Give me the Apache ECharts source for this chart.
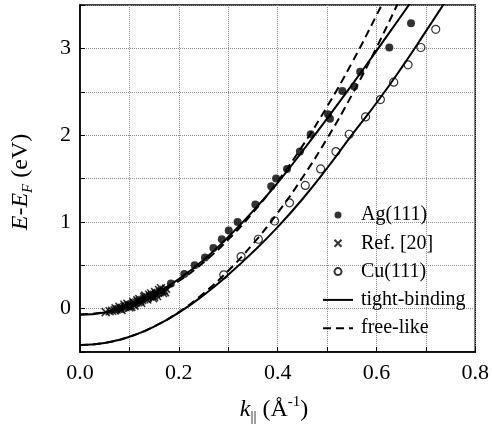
<!DOCTYPE html>
<html>
<head>
<meta charset="utf-8">
<script src="https://cdn.jsdelivr.net/npm/echarts@6/dist/echarts.min.js"></script>
<style>
html,body{margin:0;padding:0;background:#fff;}
#chart{width:492px;height:433px;}
</style>
</head>
<body>
<div id="chart"></div>
<script>
// ---- data (k in 1/Å, E-EF in eV) ----
const xTickLabels = ['0.0', '0.2', '0.4', '0.6', '0.8'];
const yTickLabels = ['0', '1', '2', '3'];

const agDots = [
  [0.184, 0.29], [0.211, 0.40], [0.232, 0.50], [0.253, 0.59], [0.270, 0.70],
  [0.287, 0.80], [0.301, 0.90], [0.319, 1.00], [0.355, 1.20], [0.387, 1.41],
  [0.397, 1.50], [0.419, 1.61], [0.445, 1.81], [0.467, 2.01], [0.502, 2.24],
  [0.506, 2.19], [0.531, 2.51], [0.555, 2.56], [0.567, 2.73], [0.626, 3.01],
  [0.670, 3.29]
];

const refCrosses = [
  [0.052, -0.04], [0.060, -0.03], [0.065, -0.025], [0.070, -0.02], [0.074, -0.01],
  [0.078, -0.005], [0.082, 0.00], [0.086, 0.01], [0.090, 0.02], [0.094, 0.025],
  [0.098, 0.035], [0.102, 0.04], [0.106, 0.05], [0.110, 0.06], [0.114, 0.07],
  [0.118, 0.075], [0.122, 0.09], [0.126, 0.10], [0.130, 0.11], [0.134, 0.12],
  [0.138, 0.13], [0.142, 0.14], [0.146, 0.15], [0.150, 0.16], [0.154, 0.17],
  [0.158, 0.18], [0.162, 0.19], [0.166, 0.205], [0.170, 0.215], [0.174, 0.23],
  [0.090, 0.045], [0.100, 0.015], [0.110, 0.035], [0.120, 0.11], [0.130, 0.135],
  [0.140, 0.16], [0.150, 0.135], [0.160, 0.215], [0.168, 0.18], [0.080, 0.02],
  [0.072, 0.005], [0.084, -0.015], [0.096, 0.055], [0.104, 0.02], [0.116, 0.095],
  [0.124, 0.065], [0.136, 0.105], [0.144, 0.175], [0.152, 0.19], [0.156, 0.145],
  [0.164, 0.235], [0.172, 0.19], [0.108, 0.075], [0.132, 0.15], [0.148, 0.12]
];

const cuCircles = [
  [0.291, 0.39], [0.326, 0.60], [0.361, 0.80], [0.394, 1.01], [0.424, 1.22],
  [0.456, 1.42], [0.487, 1.61], [0.518, 1.81], [0.545, 2.01], [0.578, 2.21],
  [0.608, 2.41], [0.635, 2.61], [0.664, 2.81], [0.690, 3.01], [0.720, 3.22]
];

const agTightBinding = [
  [0, -0.07], [0.05, -0.044], [0.10, 0.035], [0.15, 0.164], [0.20, 0.342],
  [0.25, 0.561], [0.30, 0.826], [0.35, 1.124], [0.40, 1.45], [0.45, 1.813],
  [0.50, 2.19], [0.55, 2.577], [0.60, 2.972], [0.65, 3.373], [0.70, 3.78]
];

const cuTightBinding = [
  [0, -0.42], [0.05, -0.396], [0.10, -0.325], [0.15, -0.207], [0.20, -0.046],
  [0.25, 0.155], [0.30, 0.39], [0.35, 0.652], [0.40, 0.94], [0.45, 1.261],
  [0.50, 1.618], [0.55, 2.00], [0.60, 2.37], [0.65, 2.77], [0.70, 3.196],
  [0.75, 3.63]
];

const agFreeLike = [
  [0, -0.065], [0.05, -0.041], [0.10, 0.031], [0.15, 0.150], [0.20, 0.318],
  [0.25, 0.533], [0.30, 0.796], [0.35, 1.107], [0.40, 1.466], [0.45, 1.873],
  [0.50, 2.328], [0.55, 2.83], [0.60, 3.38], [0.625, 3.67]
];

const cuFreeLike = [
  [0, -0.42], [0.05, -0.396], [0.10, -0.325], [0.15, -0.206], [0.20, -0.039],
  [0.25, 0.175], [0.30, 0.437], [0.35, 0.746], [0.40, 1.103], [0.45, 1.508],
  [0.50, 1.96], [0.55, 2.46], [0.60, 3.007], [0.65, 3.60]
];

const legendNames = ['Ag(111)', 'Ref. [20]', 'Cu(111)', 'tight-binding', 'free-like'];

// ---- chart ----
const FONT = "'Liberation Serif', 'DejaVu Serif', serif";
const chart = echarts.init(document.getElementById('chart'), null, {renderer: 'canvas'});

const gridLine = {show: true, lineStyle: {color: '#8a8a8a', width: 1, type: 'dotted'}};
const hiddenSymbol = {opacity: 0};

const option = {
  animation: false,
  backgroundColor: '#fff',
  grid: {left: 80, right: 13, top: 5, bottom: 81, show: true, borderColor: '#000', borderWidth: 1.5},
  xAxis: {
    type: 'value', min: 0, max: 0.8, interval: 0.1,
    axisLine: {show: true, onZero: false, lineStyle: {color: '#000', width: 1.5}},
    axisTick: {show: true, inside: true, length: 5, lineStyle: {color: '#000', width: 1}},
    splitLine: gridLine,
    axisLabel: {
      color: '#000', fontFamily: FONT, fontSize: 22, margin: 10,
      formatter: function (v) {
        const i = Math.round(v * 10);
        return i % 2 === 0 ? xTickLabels[i / 2] : '';
      }
    }
  },
  yAxis: {
    type: 'value', min: -0.5, max: 3.5, interval: 0.5,
    axisLine: {show: true, onZero: false, lineStyle: {color: '#000', width: 1.5}},
    axisTick: {show: true, inside: true, length: 5, lineStyle: {color: '#000', width: 1}},
    splitLine: gridLine,
    axisLabel: {
      color: '#000', fontFamily: FONT, fontSize: 22, margin: 9,
      formatter: function (v) {
        const r = Math.round(v * 2);
        return (r % 2 === 0 && r >= 0) ? yTickLabels[r / 2] : '';
      }
    }
  },
  legend: {
    data: [
      {name: legendNames[0]},
      {name: legendNames[1]},
      {name: legendNames[2]},
      {name: legendNames[3], itemStyle: hiddenSymbol},
      {name: legendNames[4], itemStyle: hiddenSymbol}
    ],
    orient: 'vertical', left: 322, top: 205, padding: 0,
    itemWidth: 30, itemHeight: 7, itemGap: 8.3, selectedMode: false,
    textStyle: {color: '#000', fontFamily: FONT, fontSize: 20, lineHeight: 20, padding: [0, 0, 0, 3]}
  },
  series: [
    {name: 'tight-binding', type: 'line', data: agTightBinding, smooth: true, symbol: 'none',
     lineStyle: {color: '#000', width: 2}, itemStyle: {color: '#000'}, z: 2},
    {name: 'tight-binding', type: 'line', data: cuTightBinding, smooth: true, symbol: 'none',
     lineStyle: {color: '#000', width: 2}, itemStyle: {color: '#000'}, z: 2},
    {name: 'free-like', type: 'line', data: agFreeLike, smooth: true, symbol: 'none',
     lineStyle: {color: '#000', width: 2, type: [8, 5]}, itemStyle: {color: '#000'}, z: 2},
    {name: 'free-like', type: 'line', data: cuFreeLike, smooth: true, symbol: 'none',
     lineStyle: {color: '#000', width: 2, type: [8, 5]}, itemStyle: {color: '#000'}, z: 2},
    {name: 'Ag(111)', type: 'scatter', data: agDots, symbol: 'circle', symbolSize: 8,
     itemStyle: {color: '#000'}, z: 3},
    {name: 'Ref. [20]', type: 'scatter', data: refCrosses, symbol: 'path://M0,0L10,10M0,10L10,0', symbolSize: 8,
     itemStyle: {color: 'rgba(0,0,0,0)', borderColor: '#000', borderWidth: 1.6}, z: 3},
    {name: 'Cu(111)', type: 'scatter', data: cuCircles, symbol: 'circle', symbolSize: 8,
     itemStyle: {color: 'rgba(0,0,0,0)', borderColor: '#000', borderWidth: 1.2}, z: 3}
  ],
  graphic: [
    {
      type: 'text', x: 274, y: 410, z: 10,
      style: {
        text: '{i|k}{sub|||}{n| (Å}{sup|-1}{n|)}',
        align: 'center', verticalAlign: 'middle', fill: '#000',
        rich: {
          i: {fontFamily: FONT, fontStyle: 'italic', fontSize: 24, lineHeight: 30, fill: '#000'},
          n: {fontFamily: FONT, fontSize: 24, lineHeight: 30, fill: '#000'},
          sub: {fontFamily: FONT, fontSize: 15, lineHeight: 15, verticalAlign: 'bottom', fill: '#000'},
          sup: {fontFamily: FONT, fontSize: 15, lineHeight: 15, verticalAlign: 'top', fill: '#000'}
        }
      }
    },
    {
      type: 'text', x: 21, y: 182, rotation: Math.PI / 2, z: 10,
      style: {
        text: '{i|E}{n|-}{i|E}{sub|F}{n| (eV)}',
        align: 'center', verticalAlign: 'middle', fill: '#000',
        rich: {
          i: {fontFamily: FONT, fontStyle: 'italic', fontSize: 24, lineHeight: 30, fill: '#000'},
          n: {fontFamily: FONT, fontSize: 24, lineHeight: 30, fill: '#000'},
          sub: {fontFamily: FONT, fontStyle: 'italic', fontSize: 15, lineHeight: 15, verticalAlign: 'bottom', fill: '#000'}
        }
      }
    }
  ]
};
chart.setOption(option);
</script>
</body>
</html>
